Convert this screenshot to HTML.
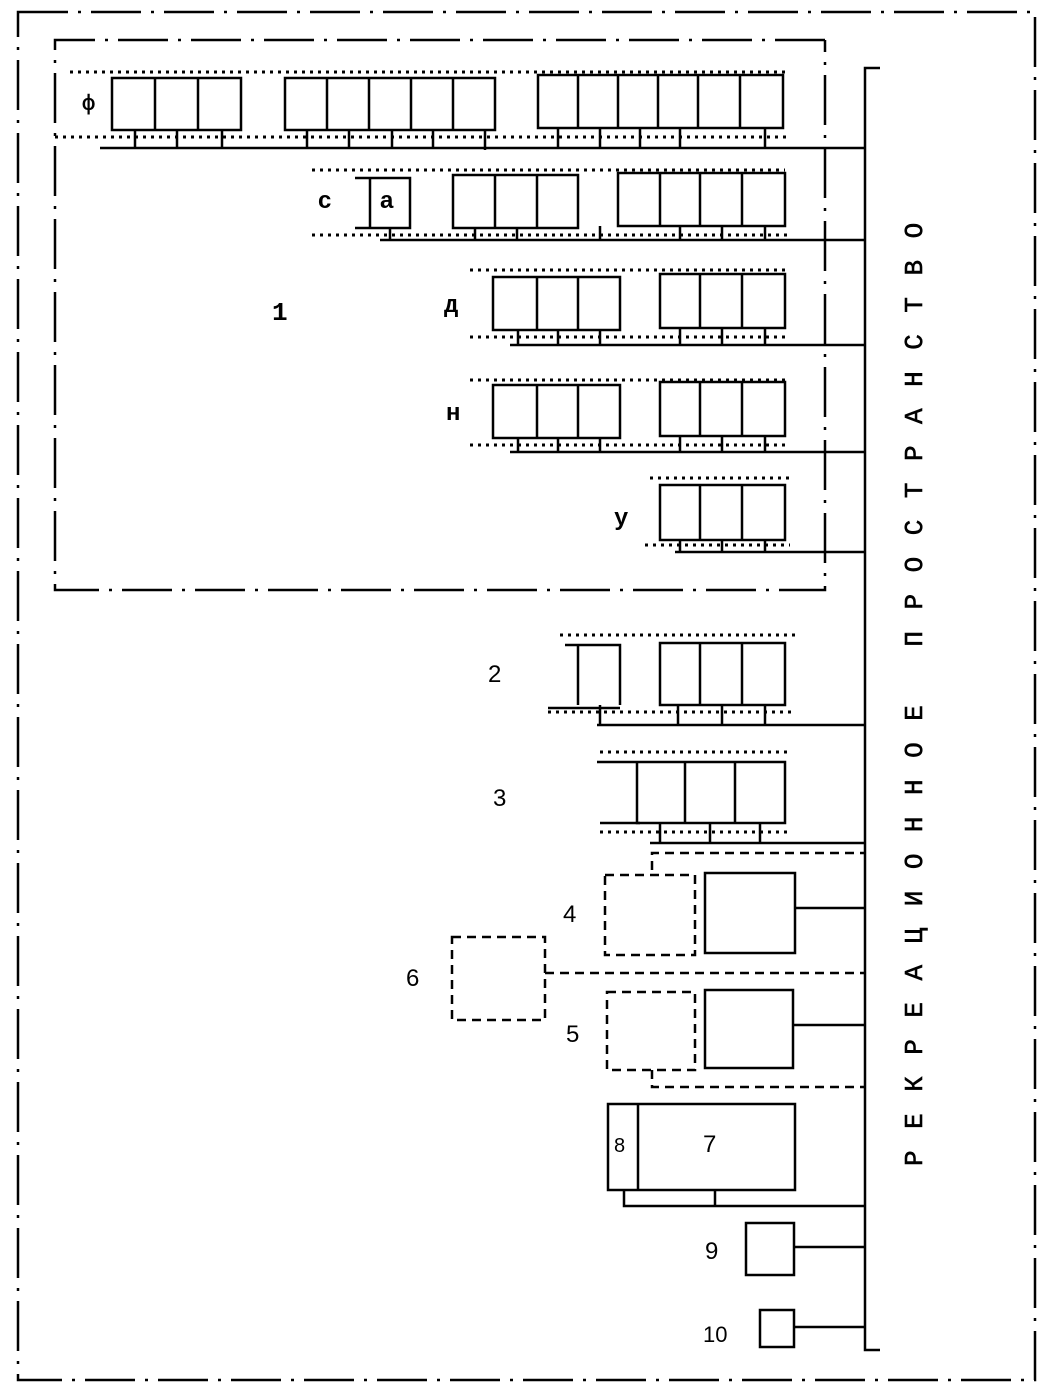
<!DOCTYPE html>
<html><head><meta charset="utf-8"><style>
html,body{margin:0;padding:0;background:#fff;}
svg{display:block}
text{font-family:"Liberation Mono","DejaVu Sans Mono",monospace;font-weight:bold;fill:#000}
.s{stroke:#000;stroke-width:2.5;fill:none}
.d{stroke:#000;stroke-width:3;fill:none;stroke-dasharray:3 5}
.dd{stroke:#000;stroke-width:2.5;fill:none;stroke-dasharray:9 6}
.dc{stroke:#000;stroke-width:2.5;fill:none;stroke-dasharray:50 10 3 10}
.l{font-family:"Liberation Sans",sans-serif;font-size:24px;font-weight:normal}
</style></head><body>
<svg width="1053" height="1395" viewBox="0 0 1053 1395" xmlns="http://www.w3.org/2000/svg">
<path class="dc" d="M18 12 H1035 V1380 H18 Z"/>
<path class="dc" d="M825 40 H55 V590 H825 V40"/>
<path class="s" d="M880 68 H865 V1350 H880"/>

<path class="d" d="M70 72 H790"/>
<path class="s" d="M112 78 H241 V130 H112 Z M155 78 V130 M198 78 V130"/>
<path class="s" d="M285 78 H495 V130 H285 Z M327 78 V130 M369 78 V130 M411 78 V130 M453 78 V130"/>
<path class="s" d="M538 75 H783 V128 H538 Z M578 75 V128 M618 75 V128 M658 75 V128 M698 75 V128 M740 75 V128"/>
<path class="d" d="M55 137 H790"/>
<path class="s" d="M100 148 H865 M135 130 V148 M177 130 V148 M222 130 V148 M307 130 V148 M349 130 V148 M392 130 V148 M433 130 V148 M485 130 V150 M558 128 V148 M600 128 V148 M640 128 V148 M680 128 V148 M765 128 V148"/>
<text x="82" y="110" style="font-size:22px">ф</text>

<path class="d" d="M312 170 H785"/>
<path class="s" d="M355 178 H410 V228 H355 M370 178 V228"/>
<path class="s" d="M453 175 H578 V228 H453 Z M495 175 V228 M537 175 V228"/>
<path class="s" d="M618 173 H785 V226 H618 Z M660 173 V226 M700 173 V226 M742 173 V226"/>
<path class="d" d="M312 235 H790"/>
<path class="s" d="M380 240 H865 M390 228 V240 M475 228 V240 M517 228 V240 M600 226 V240 M680 226 V240 M722 226 V240 M765 226 V240"/>
<text x="318" y="208" class="l" style="font-weight:bold;font-family:'Liberation Sans',sans-serif">с</text>
<text x="380" y="208" class="l" style="font-weight:bold;font-family:'Liberation Sans',sans-serif">а</text>

<path class="d" d="M470 270 H790"/>
<path class="s" d="M493 277 H620 V330 H493 Z M537 277 V330 M578 277 V330"/>
<path class="s" d="M660 274 H785 V328 H660 Z M700 274 V328 M742 274 V328"/>
<path class="d" d="M470 337 H790"/>
<path class="s" d="M510 345 H865 M518 330 V345 M558 330 V345 M600 330 V345 M680 328 V345 M722 328 V345 M765 328 V345"/>
<text x="444" y="312" style="font-size:24px">д</text>

<path class="d" d="M470 380 H790"/>
<path class="s" d="M493 385 H620 V438 H493 Z M537 385 V438 M578 385 V438"/>
<path class="s" d="M660 382 H785 V436 H660 Z M700 382 V436 M742 382 V436"/>
<path class="d" d="M470 445 H790"/>
<path class="s" d="M510 452 H865 M518 438 V452 M558 438 V452 M600 438 V452 M680 436 V452 M722 436 V452 M765 436 V452"/>
<text x="446" y="420" style="font-size:24px">н</text>

<path class="d" d="M650 478 H790"/>
<path class="s" d="M660 485 H785 V540 H660 Z M700 485 V540 M742 485 V540"/>
<path class="d" d="M645 545 H790"/>
<path class="s" d="M675 552 H865 M680 540 V552 M722 540 V552 M765 540 V552"/>
<text x="614" y="525" style="font-size:24px">у</text>

<text x="272" y="320" style="font-size:26px">1</text>

<path class="d" d="M560 635 H795"/>
<path class="s" d="M565 645 H620 V705 M578 645 V705"/>
<path class="s" d="M660 643 H785 V705 H660 Z M700 643 V705 M742 643 V705"/>
<path class="d" d="M548 712 H795"/>
<path class="s" d="M548 708 H620 M597 725 H865 M600 705 V725 M678 705 V725 M722 705 V725 M765 705 V725"/>
<text x="488" y="682" class="l">2</text>

<path class="d" d="M600 752 H790"/>
<path class="s" d="M597 762 H785 V823 H637 V762 M685 762 V823 M735 762 V823"/>
<path class="s" d="M600 823 H640"/>
<path class="d" d="M600 832 H790"/>
<path class="s" d="M650 843 H865 M660 823 V843 M710 823 V843 M760 823 V843"/>
<text x="493" y="806" class="l">3</text>

<path class="dd" d="M652 870 V853 H865"/>
<rect class="dd" x="605" y="875" width="90" height="80"/>
<rect class="s" x="705" y="873" width="90" height="80"/>
<path class="s" d="M795 908 H865"/>
<text x="563" y="922" class="l">4</text>

<rect class="dd" x="452" y="937" width="93" height="83"/>
<path class="dd" d="M545 973 H865"/>
<text x="406" y="986" class="l">6</text>

<rect class="dd" x="607" y="992" width="88" height="78"/>
<rect class="s" x="705" y="990" width="88" height="78"/>
<path class="s" d="M793 1025 H865"/>
<path class="dd" d="M652 1070 V1087 H865"/>
<text x="566" y="1042" class="l">5</text>

<rect class="s" x="608" y="1104" width="187" height="86"/>
<path class="s" d="M638 1104 V1190"/>
<path class="s" d="M624 1190 V1206 H865 M715 1190 V1206"/>
<text x="614" y="1152" class="l" style="font-size:20px">8</text>
<text x="703" y="1152" class="l">7</text>

<rect class="s" x="746" y="1223" width="48" height="52"/>
<path class="s" d="M794 1247 H865"/>
<text x="705" y="1259" class="l">9</text>

<rect class="s" x="760" y="1310" width="34" height="37"/>
<path class="s" d="M794 1327 H865"/>
<text x="703" y="1342" class="l" style="font-size:22px">10</text>

<text transform="translate(922,1166) rotate(-90)" style="font-size:26px;letter-spacing:21.5px;font-weight:normal;stroke:#000;stroke-width:0.6">РЕКРЕАЦИОННОЕ ПРОСТРАНСТВО</text>
</svg>
</body></html>
